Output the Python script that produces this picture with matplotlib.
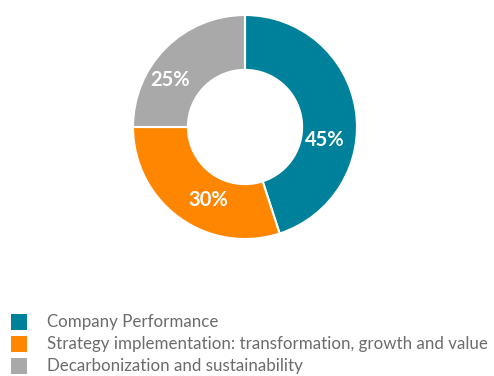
import matplotlib
matplotlib.use("Agg")
import matplotlib.pyplot as plt
from matplotlib.patches import Rectangle
import numpy as np

categories = ["Company Performance",
              "Strategy implementation: transformation, growth and value",
              "Decarbonization and sustainability"]
values = [45, 30, 25]
colors = ["#00819b", "#ff8600", "#a9a9a9"]

# label placement (angle in degrees, radius as fraction of outer radius)
label_angle = [-9.3, -117.0, 148.0]
label_radius = [0.72, 0.73, 0.79]

fig = plt.figure(figsize=(4.94, 3.76), dpi=100)
ax = fig.add_axes([133/494, (376-239)/376, 224/494, 224/376])
wedges, texts, autotexts = ax.pie(
    values, colors=colors, startangle=90, counterclock=False,
    autopct=lambda p: f"{p:.0f}%", pctdistance=0.74,
    wedgeprops=dict(width=0.49, edgecolor="white", linewidth=1.5),
    textprops=dict(color="white", fontsize=14.5, fontweight="bold", family="Lato"))
for t, a, r in zip(autotexts, label_angle, label_radius):
    t.set_position((r*np.cos(np.radians(a)), r*np.sin(np.radians(a))))
ax.set_aspect("equal")
ax.set_xlim(-1, 1)
ax.set_ylim(-1, 1)

y_rows = [322, 344, 366]
for cat, col, yp in zip(categories, colors, y_rows):
    fig.patches.append(Rectangle((11/494, (376-yp-8)/376), 16/494, 16/376,
                                 transform=fig.transFigure, facecolor=col,
                                 edgecolor="none", figure=fig))
    fig.text(47/494, (376-yp)/376, cat, fontsize=12.2, color="#6b6b6b",
             va="center", ha="left", family="Lato")

fig.savefig("out.png", dpi=100)
